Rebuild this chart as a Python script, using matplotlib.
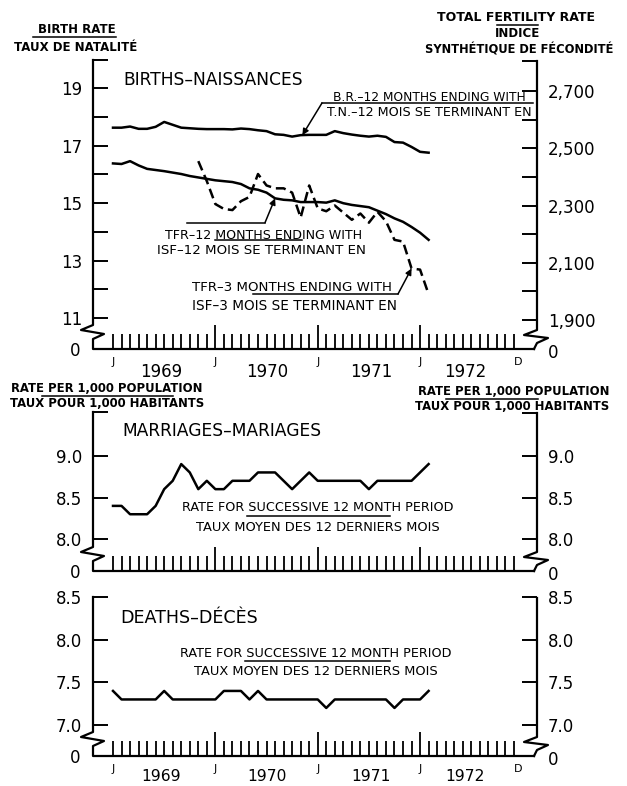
import matplotlib
matplotlib.use('Agg')
import matplotlib.pyplot as plt
import numpy as np
from matplotlib.lines import Line2D
from matplotlib.transforms import blended_transform_factory

plt.rcParams['font.family'] = ['DejaVu Sans']

# ! <--- Data, month 0 = January 1969 --->
months = np.arange(38)
br12 = [17.62, 17.62, 17.66, 17.58, 17.58, 17.65, 17.82, 17.72, 17.62, 17.60,
        17.58, 17.57, 17.57, 17.57, 17.56, 17.59, 17.57, 17.53, 17.50, 17.39,
        17.37, 17.31, 17.36, 17.37, 17.37, 17.37, 17.50, 17.43, 17.38, 17.34,
        17.31, 17.34, 17.30, 17.12, 17.10, 16.95, 16.78, 16.75]
tfr12 = [2447, 2445, 2455, 2440, 2428, 2424, 2420, 2415, 2410, 2403,
         2398, 2393, 2388, 2385, 2382, 2375, 2360, 2355, 2345, 2325,
         2320, 2318, 2312, 2312, 2312, 2310, 2318, 2308, 2302, 2298,
         2294, 2282, 2270, 2255, 2243, 2225, 2205, 2180]
tfr3_months = np.arange(10, 38)
tfr3 = [2455, 2385, 2305, 2288, 2284, 2315, 2330, 2410, 2370, 2360,
        2360, 2345, 2258, 2370, 2290, 2280, 2300, 2275, 2250, 2272,
        2240, 2278, 2245, 2180, 2174, 2080, 2076, 1990]
marriages = [8.4, 8.4, 8.3, 8.3, 8.3, 8.4, 8.6, 8.7, 8.9, 8.8,
             8.6, 8.7, 8.6, 8.6, 8.7, 8.7, 8.7, 8.8, 8.8, 8.8,
             8.7, 8.6, 8.7, 8.8, 8.7, 8.7, 8.7, 8.7, 8.7, 8.7,
             8.6, 8.7, 8.7, 8.7, 8.7, 8.7, 8.8, 8.9]
deaths = [7.4, 7.3, 7.3, 7.3, 7.3, 7.3, 7.4, 7.3, 7.3, 7.3,
          7.3, 7.3, 7.3, 7.4, 7.4, 7.4, 7.3, 7.4, 7.3, 7.3,
          7.3, 7.3, 7.3, 7.3, 7.3, 7.2, 7.3, 7.3, 7.3, 7.3,
          7.3, 7.3, 7.3, 7.2, 7.3, 7.3, 7.3, 7.4]

br_ticks = [11, 13, 15, 17, 19]
br_minor = [12, 14, 16, 18]
tfr_ticks = [1900, 2100, 2300, 2500, 2700]
tfr_labels = ['1,900', '2,100', '2,300', '2,500', '2,700']
tfr_minor = [2000, 2200, 2400, 2600]
mar_ticks = [8.0, 8.5, 9.0]
dea_ticks = [7.0, 7.5, 8.0, 8.5]
year_labels = ['1969', '1970', '1971', '1972']
year_pos = [5.7, 18.1, 30.3, 41.3]
jan_pos = [0, 12, 24, 36]

W, H = 627, 786
X0 = 113
PXM = 8.53
NUM = 12

fig = plt.figure(figsize=(W / 100, H / 100), dpi=100)


def ftext(x, y, s, size=8.7, ha='left', weight='normal'):
    # y is the centre of the capitals, in pixels from the top
    base = y + 0.365 * size * 100 / 72
    fig.text(x / W, 1 - base / H, s, fontsize=size, ha=ha, va='baseline', weight=weight)


def fline(x1, x2, y, lw=1.1):
    fig.add_artist(Line2D([x1 / W, x2 / W], [1 - y / H, 1 - y / H], color='k', lw=lw))


def make_axes(rect, ylim):
    l, t, r, b = rect
    ax = fig.add_axes([l / W, 1 - b / H, (r - l) / W, (b - t) / H])
    ax.set_xlim((l - X0) / PXM, (r - X0) / PXM)
    ax.set_ylim(ylim)
    for s in ax.spines.values():
        s.set_visible(False)
    ax.patch.set_visible(False)
    ax.set_xticks([12, 24, 36])
    ax.set_xticks([m for m in range(48) if m not in (12, 24, 36)], minor=True)
    ax.tick_params(axis='x', which='major', direction='in', length=17, width=1.3, labelbottom=False)
    ax.tick_params(axis='x', which='minor', direction='in', length=10.5, width=1.3)
    ax.tick_params(axis='y', which='both', direction='in', length=11, width=1.4,
                   pad=8, labelsize=NUM)
    return ax


def twin(ax):
    axr = ax.twinx()
    for s in axr.spines.values():
        s.set_visible(False)
    axr.tick_params(axis='y', which='both', direction='in', length=11, width=1.4, pad=8, labelsize=NUM)
    return axr


def draw_frame(ax, rect):
    l, t, r, b = rect

    def p(x, y):
        return ((x - l) / (r - l), (b - y) / (b - t))

    zy = b - 24
    left = [(l, t), (l, zy), (l - 12, zy + 5), (l + 11, zy + 9), (l, zy + 14), (l, b), (r - 3, b)]
    right = [(r, t + 1), (r, b - 19), (r - 13, b - 14), (r + 11, b - 11), (r, b - 6), (r - 3, b)]
    for pts in (left, right):
        xs, ys = zip(*[p(*q) for q in pts])
        ax.plot(xs, ys, transform=ax.transAxes, color='k', lw=1.6, clip_on=False)
    ftext(80, b + 1, '0', size=NUM, ha='right')
    ftext(548, b + 3, '0', size=NUM)


def month_labels(ax, b, year_base, year_size):
    tr = blended_transform_factory(ax.transData, fig.transFigure)
    for m in jan_pos:
        ax.text(m, 1 - (b + 16) / H, 'J', transform=tr, fontsize=8, ha='center', va='baseline')
    ax.text(47.5, 1 - (b + 16) / H, 'D', transform=tr, fontsize=8, ha='center', va='baseline')
    for m, s in zip(year_pos, year_labels):
        ax.text(m, 1 - year_base / H, s, transform=tr, fontsize=year_size, ha='center', va='baseline')


# ! <--- Births panel --->
rect1 = (93, 60, 537, 349)
ax1 = make_axes(rect1, (9.922, 19.974))
ax1.set_yticks(br_ticks)
ax1.set_yticklabels([str(v) for v in br_ticks])
ax1.set_yticks(br_minor + [19.97], minor=True)
ax1.plot(months, br12, color='k', lw=1.8)

ax1r = twin(ax1)
ax1r.set_ylim(1798.7, 2808.3)
ax1r.set_yticks(tfr_ticks)
ax1r.set_yticklabels(tfr_labels)
ax1r.set_yticks(tfr_minor + [2805], minor=True)
ax1r.plot(months, tfr12, color='k', lw=1.8)
ax1r.plot(tfr3_months, tfr3, color='k', lw=1.8, dashes=(4, 2))
draw_frame(ax1, rect1)
month_labels(ax1, 349, 377, NUM)

arrow = dict(arrowstyle='-|>', lw=1.1, color='k', mutation_scale=9, shrinkA=0, shrinkB=0)
ax1.annotate('', xy=(22.2, br12[22]), xytext=(322, H - 103), textcoords='figure pixels', arrowprops=arrow)
ax1r.annotate('', xy=(19, tfr12[19]), xytext=(265, H - 222.7), textcoords='figure pixels', arrowprops=arrow)
ax1r.annotate('', xy=(35, tfr3[25]), xytext=(398, H - 294), textcoords='figure pixels', arrowprops=arrow)

ftext(77, 29, 'BIRTH RATE', size=8.5, ha='center', weight='bold')
fline(33, 116, 37)
ftext(76, 47, 'TAUX DE NATALITÉ', size=8.5, ha='center', weight='bold')
ftext(516, 16, 'TOTAL FERTILITY RATE', size=9.0, ha='center', weight='bold')
fline(497, 538, 24.5)
ftext(517, 33, 'INDICE', size=8.5, ha='center', weight='bold')
ftext(519, 49, 'SYNTHÉTIQUE DE FÉCONDITÉ', size=8.3, ha='center', weight='bold')

ftext(123, 79, 'BIRTHS–NAISSANCES', size=12.3)
ftext(333, 96.5, 'B.R.–12 MONTHS ENDING WITH', size=8.8)
fline(322, 533, 103)
ftext(327, 111, 'T.N.–12 MOIS SE TERMINANT EN', size=9.2)
ftext(165, 234, 'TFR–12 MONTHS ENDING WITH', size=9.1)
fline(215, 302, 240)
fline(187, 265, 222.7)
ftext(157, 249, 'ISF–12 MOIS SE TERMINANT EN', size=9.6)
ftext(192, 286, 'TFR–3 MONTHS ENDING WITH', size=9.6)
fline(253, 398, 294)
ftext(192, 305, 'ISF–3 MOIS SE TERMINANT EN', size=9.8)

# ! <--- Marriages panel --->
rect2 = (93, 412, 537, 571)
ax2 = make_axes(rect2, (7.621, 9.523))
ax2.set_yticks(mar_ticks)
ax2.set_yticklabels(['%.1f' % v for v in mar_ticks])
ax2.set_yticks([9.52], minor=True)
ax2.plot(months, marriages, color='k', lw=1.8)
ax2r = twin(ax2)
ax2r.set_ylim(ax2.get_ylim())
ax2r.set_yticks(mar_ticks)
ax2r.set_yticklabels(['%.1f' % v for v in mar_ticks])
ax2r.set_yticks([9.51], minor=True)
draw_frame(ax2, rect2)

ftext(107, 388, 'RATE PER 1,000 POPULATION', size=8.4, ha='center', weight='bold')
fline(42, 173, 396)
ftext(107, 403, 'TAUX POUR 1,000 HABITANTS', size=8.4, ha='center', weight='bold')
ftext(514, 391, 'RATE PER 1,000 POPULATION', size=8.4, ha='center', weight='bold')
fline(446, 538, 399)
ftext(512, 406, 'TAUX POUR 1,000 HABITANTS', size=8.4, ha='center', weight='bold')
ftext(122, 430, 'MARRIAGES–MARIAGES', size=12.3)
ftext(318, 506.7, 'RATE FOR SUCCESSIVE 12 MONTH PERIOD', size=9.2, ha='center')
fline(247, 390, 516)
ftext(318, 526.7, 'TAUX MOYEN DES 12 DERNIERS MOIS', size=9.4, ha='center')

# ! <--- Deaths panel --->
rect3 = (93, 597, 537, 756)
ax3 = make_axes(rect3, (6.636, 8.503))
ax3.set_yticks(dea_ticks)
ax3.set_yticklabels(['%.1f' % v for v in dea_ticks])
ax3.plot(months, deaths, color='k', lw=1.8)
ax3r = twin(ax3)
ax3r.set_ylim(ax3.get_ylim())
ax3r.set_yticks(dea_ticks)
ax3r.set_yticklabels(['%.1f' % v for v in dea_ticks])
draw_frame(ax3, rect3)
month_labels(ax3, 756, 781, 11.2)

ftext(120, 617, 'DEATHS–DÉCÈS', size=12.6)
ftext(316, 652.7, 'RATE FOR SUCCESSIVE 12 MONTH PERIOD', size=9.2, ha='center')
fline(245, 390, 661)
ftext(316, 670, 'TAUX MOYEN DES 12 DERNIERS MOIS', size=9.4, ha='center')

fig.savefig('out.png', dpi=100)
plt.close()
